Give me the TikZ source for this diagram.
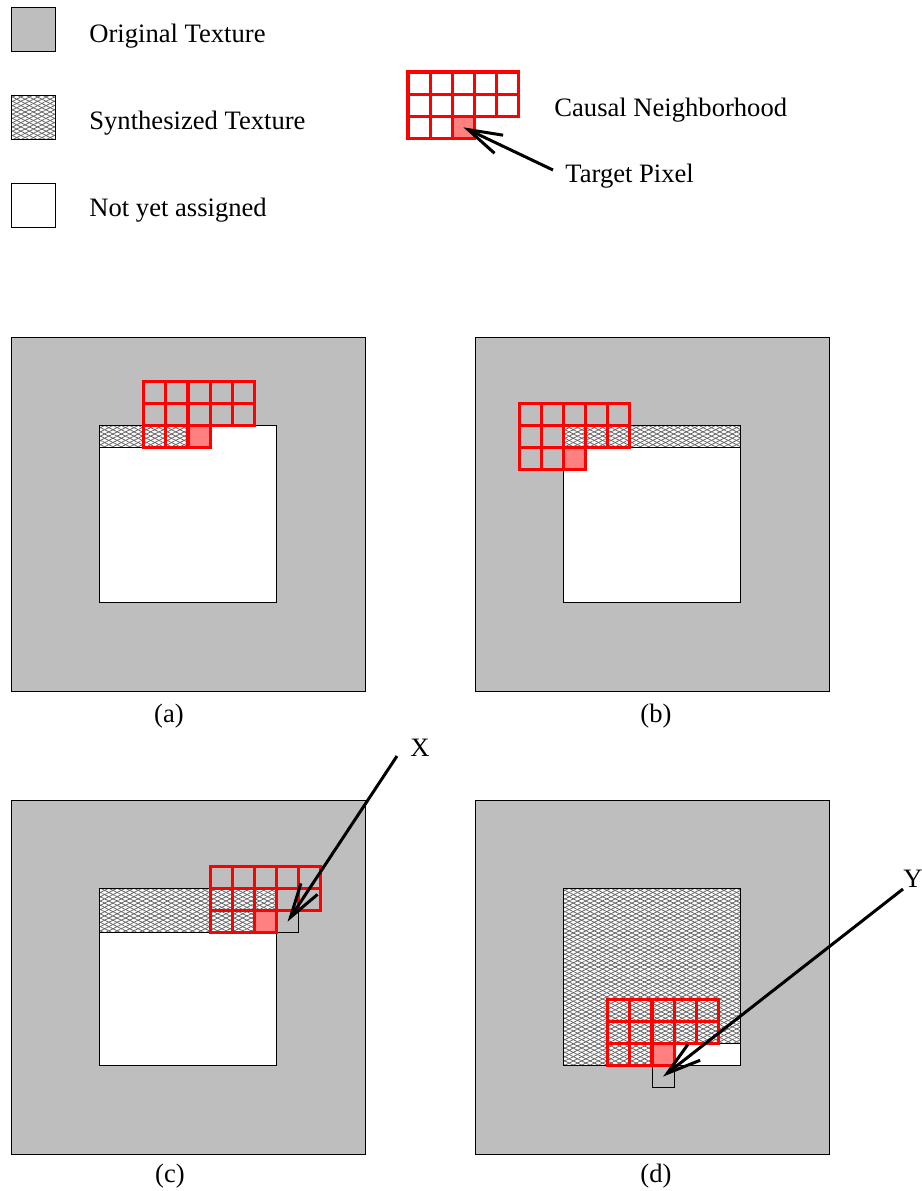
\documentclass[tikz,border=0pt]{standalone}
\usepackage{fontspec}
\setmainfont{Liberation Serif}
\usetikzlibrary{arrows.meta,patterns.meta}
\definecolor{origgray}{RGB}{190,190,190}
\definecolor{tgtpink}{RGB}{255,128,128}
% causal neighbourhood, top left cell at (#1,#2) in cell units
\def\nbhd(#1,#2){%
  \fill[tgt] (#1+2,#2+2) rectangle (#1+3,#2+3);
  \draw[redgrid] (#1,#2+3) -- (#1,#2) -- (#1+5,#2) -- (#1+5,#2+2) -- (#1+3,#2+2) -- (#1+3,#2+3) -- cycle
    (#1,#2+1) -- (#1+5,#2+1) (#1,#2+2) -- (#1+3,#2+2)
    (#1+1,#2) -- (#1+1,#2+3) (#1+2,#2) -- (#1+2,#2+3)
    (#1+3,#2) -- (#1+3,#2+2) (#1+4,#2) -- (#1+4,#2+2);
}

\begin{document}
\begin{tikzpicture}[x=0.5pt, y=-0.5pt, line join=miter,
    cellunit/.style={x=11.0625pt, y=-11.0625pt},
    orig/.style={draw, line width=.5pt, fill=origgray},
    blank/.style={draw, line width=.5pt, fill=white},
    synth/.style={draw, line width=.5pt, preaction={fill=white},
      preaction={pattern={Lines[angle=27,distance=1.9pt,line width=.4pt]}, pattern color=black!60},
      preaction={pattern={Lines[angle=-27,distance=1.9pt,line width=.4pt]}, pattern color=black!60}},
    tgt/.style={fill=tgtpink},
    redgrid/.style={draw=red, line width=1.6pt},
    marksq/.style={draw, line width=.5pt},
    ptr/.style={line width=1.5pt, -{Straight Barb[length=17pt,width=10pt]}},
    lbl/.style={anchor=base west, inner sep=0pt, font=\fontsize{13.3}{15}\selectfont},
    captxt/.style={anchor=base, inner sep=0pt, font=\fontsize{13.3}{15}\selectfont}]
  \useasboundingbox (0,0) rectangle (922,1191);

  %%%%% legend %%%%%
  \draw[orig] (11,7) rectangle (55,51);
  \node[lbl] (origtxt) at (89,42) {Original Texture};
  \draw[synth] (11,95) rectangle (55,139);
  \node[lbl] (synthtxt) at (89,129) {Synthesized Texture};
  \draw[blank] (11,183) rectangle (55,227);
  \node[lbl] (blanktxt) at (89,216) {Not yet assigned};

  \begin{scope}[shift={(408,72)}, cellunit]
    \nbhd(0,0)
    \coordinate (tgtl) at (2.5,2.5);
  \end{scope}
  \node[lbl] (nbhdtxt) at (554,116) {Causal Neighborhood};
  \node[lbl] (tgttxt) at (565,182) {Target Pixel};
  \coordinate (tptail) at (553,170);
  \draw[ptr] (tptail) -- (tgtl);

  %%%%% (a) %%%%%
  \begin{scope}[shift={(11,337)}, cellunit]
    \draw[orig] (0,0) rectangle (16,16);
    \draw[blank] (4,4) rectangle (12,12);
    \draw[synth] (4,4) rectangle (8,5);
    \nbhd(6,2)
  \end{scope}
  \node[captxt] (capa) at (169,722) {(a)};

  %%%%% (b) %%%%%
  \begin{scope}[shift={(475,337)}, cellunit]
    \draw[orig] (0,0) rectangle (16,16);
    \draw[blank] (4,4) rectangle (12,12);
    \draw[synth] (4,4) rectangle (12,5);
    \nbhd(2,3)
  \end{scope}
  \node[captxt] (capb) at (656,722) {(b)};

  %%%%% (c) %%%%%
  \begin{scope}[shift={(11,800)}, cellunit]
    \draw[orig] (0,0) rectangle (16,16);
    \draw[blank] (4,4) rectangle (12,12);
    \draw[synth] (4,4) rectangle (12,6);
    \draw[marksq] (12,5) rectangle (13,6);
    \coordinate (xsq) at (12.5,5.5);
    \nbhd(9,3)
  \end{scope}
  \node[captxt] (capc) at (170,1182) {(c)};
  \node[lbl] (xlbl) at (410,756) {X};
  \coordinate (xtail) at (397,756);
  \draw[ptr] (xtail) -- (xsq);

  %%%%% (d) %%%%%
  \begin{scope}[shift={(475,800)}, cellunit]
    \draw[orig] (0,0) rectangle (16,16);
    \draw[blank] (4,4) rectangle (12,12);
    \draw[synth] (4,4) -- (12,4) -- (12,11) -- (9,11) -- (9,12) -- (4,12) -- cycle;
    \draw[marksq] (8,12) rectangle (9,13);
    \coordinate (ysq) at (8.5,12.5);
    \nbhd(6,9)
  \end{scope}
  \node[captxt] (capd) at (656,1182) {(d)};
  \node[lbl] (ylbl) at (903,887) {Y};
  \coordinate (ytail) at (903,889);
  \draw[ptr] (ytail) -- (ysq);
\end{tikzpicture}
\end{document}
